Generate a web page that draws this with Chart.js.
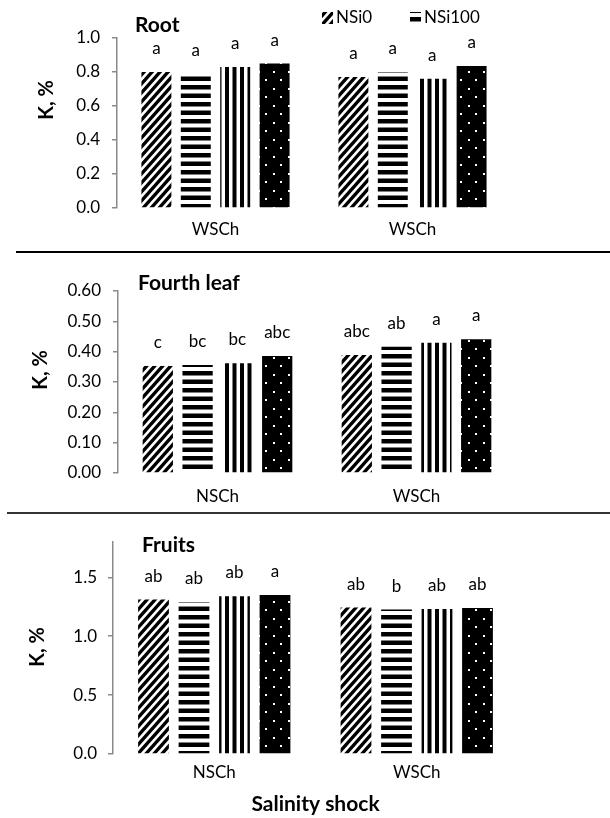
<!DOCTYPE html>
<html>
<head>
<meta charset="utf-8">
<script src="https://cdn.jsdelivr.net/npm/chart.js@4.4.1/dist/chart.umd.min.js"></script>
<style>
  html, body { margin: 0; padding: 0; background: #fff; }
  #wrap { position: relative; width: 610px; height: 818px; overflow: hidden; }
  canvas { position: absolute; left: 0; }
  .rule { position: absolute; right: 0; height: 2px; background: #000; }
</style>
</head>
<body>
<div id="wrap">
  <canvas id="root" width="610" height="252" style="top:0"></canvas>
  <div class="rule" style="top:251px;left:16px"></div>
  <canvas id="leaf" width="610" height="261" style="top:252px"></canvas>
  <div class="rule" style="top:512px;left:7px;background:#333"></div>
  <canvas id="fruit" width="610" height="305" style="top:513px"></canvas>
</div>
<script>
// treatments (only the first two show in the cut legend)
var treatments = ['NSi0', 'NSi100', 'Si0', 'Si100'];

// Root
var root_cats = ['WSCh', 'WSCh'];
var root_NSi0 = [0.80, 0.77];
var root_NSi100 = [0.79, 0.80];
var root_Si0 = [0.83, 0.76];
var root_Si100 = [0.85, 0.835];
var root_letters = [['a', 'a'], ['a', 'a'], ['a', 'a'], ['a', 'a']];
var root_ticks = [0, 0.2, 0.4, 0.6, 0.8, 1.0];

// Fourth leaf
var leaf_cats = ['NSCh', 'WSCh'];
var leaf_NSi0 = [0.353, 0.389];
var leaf_NSi100 = [0.356, 0.416];
var leaf_Si0 = [0.362, 0.429];
var leaf_Si100 = [0.386, 0.441];
var leaf_letters = [['c', 'abc'], ['bc', 'ab'], ['bc', 'a'], ['abc', 'a']];
var leaf_ticks = [0, 0.1, 0.2, 0.3, 0.4, 0.5, 0.6];

// Fruits
var fruit_cats = ['NSCh', 'WSCh'];
var fruit_NSi0 = [1.311, 1.243];
var fruit_NSi100 = [1.291, 1.226];
var fruit_Si0 = [1.339, 1.232];
var fruit_Si100 = [1.350, 1.240];
var fruit_letters = [['ab', 'ab'], ['ab', 'b'], ['ab', 'ab'], ['a', 'ab']];
var fruit_ticks = [0, 0.5, 1.0, 1.5];

Chart.defaults.font.family = 'Lato, sans-serif';
Chart.defaults.color = '#000';

function tile(w, h, draw) {
    var c = document.createElement('canvas');
    c.width = w; c.height = h;
    var g = c.getContext('2d');
    draw(g, w, h);
    return g.createPattern(c, 'repeat');
}

var pat_diag = tile(8, 9, function (g, w, h) {
    g.fillStyle = '#fff'; g.fillRect(0, 0, w, h);
    g.strokeStyle = '#000'; g.lineWidth = 3.4;
    g.beginPath();
    for (var k = -1; k <= 1; k++) {
        g.moveTo(k * w - 1, h + 1.1);
        g.lineTo(k * w + w + 1, -1.1);
    }
    g.stroke();
});
var pat_hor = tile(4, 17, function (g, w, h) {
    g.fillStyle = '#fff'; g.fillRect(0, 0, w, h);
    g.fillStyle = '#000';
    g.fillRect(0, 0, w, 4.5);
    g.fillRect(0, 8.5, w, 4.5);
});
var pat_ver = tile(15, 4, function (g, w, h) {
    g.fillStyle = '#fff'; g.fillRect(0, 0, w, h);
    g.fillStyle = '#000';
    g.fillRect(0, 0, 4, h);
    g.fillRect(7.5, 0, 4, h);
});
var pat_dots = tile(15, 17, function (g, w, h) {
    g.fillStyle = '#000'; g.fillRect(0, 0, w, h);
    g.fillStyle = '#fff';
    g.fillRect(3, 3, 2, 2);
    g.fillRect(10, 11, 2, 2);
});
var fills = [pat_diag, pat_hor, pat_ver, pat_dots];

// letters, panel titles, y title and the legend
var panelText = {
    id: 'panelText',
    afterDraw: function (chart, args, o) {
        var ctx = chart.ctx;
        ctx.save();
        ctx.fillStyle = '#000';
        ctx.font = '17px Lato';
        ctx.textAlign = 'center';
        ctx.textBaseline = 'alphabetic';
        chart.data.datasets.forEach(function (ds, i) {
            chart.getDatasetMeta(i).data.forEach(function (bar, j) {
                ctx.fillText(ds.letters[j], bar.x, bar.y - 18);
            });
        });

        ctx.font = 'bold 21px Lato';
        ctx.textAlign = 'left';
        ctx.textBaseline = 'middle';
        ctx.fillText(o.title, o.titleX, o.titleY);

        ctx.save();
        ctx.translate(o.yTitleX, o.yTitleY);
        ctx.rotate(-Math.PI / 2);
        ctx.font = 'bold 20px Lato';
        ctx.textAlign = 'center';
        ctx.fillText('K, %', 0, 0);
        ctx.restore();

        if (o.legend) {
            ctx.font = '17px Lato';
            o.legend.forEach(function (it) {
                var ds = chart.data.datasets[it.index];
                ctx.fillStyle = ds.backgroundColor;
                ctx.fillRect(it.x, it.y - 6, 11, 12);
                ctx.fillStyle = '#000';
                ctx.fillText(ds.label, it.x + 14, it.y);
            });
        }
        ctx.restore();
    }
};

function makeChart(id, cats, series, letters, ticks, fmt, box, text) {
    var datasets = [];
    for (var i = 0; i < series.length; i++) {
        datasets.push({
            label: treatments[i],
            data: series[i],
            letters: letters[i],
            backgroundColor: fills[i],
            borderWidth: 0,
            barPercentage: 0.76,
            categoryPercentage: 0.8
        });
    }
    return new Chart(document.getElementById(id), {
        type: 'bar',
        data: { labels: cats, datasets: datasets },
        plugins: [panelText],
        options: {
            responsive: false,
            animation: false,
            devicePixelRatio: 1,
            layout: { padding: { left: 0, top: box.top, right: box.right, bottom: 0 } },
            plugins: {
                legend: { display: false },
                tooltip: { enabled: false },
                panelText: text
            },
            scales: {
                x: {
                    grid: { display: false, drawTicks: false },
                    border: { display: false },
                    ticks: { font: { size: 17 }, padding: box.labelPad, color: '#000' },
                    title: {
                        display: !!box.xTitle,
                        text: box.xTitle || '',
                        font: { size: 21, weight: 'bold' },
                        padding: { top: 0, bottom: 1 },
                        color: '#000'
                    },
                    afterFit: function (s) { s.height = box.xH; }
                },
                y: {
                    min: 0,
                    max: box.max,
                    afterBuildTicks: function (s) {
                        s.ticks = ticks.map(function (v) { return { value: v }; });
                    },
                    ticks: {
                        font: { size: 17 },
                        padding: box.tickPad,
                        color: '#000',
                        callback: function (v) { return Number(v).toFixed(fmt); }
                    },
                    grid: {
                        drawOnChartArea: false,
                        drawTicks: true,
                        tickLength: 5,
                        color: '#8a8a8a',
                        lineWidth: 1.5
                    },
                    border: { display: true, color: '#8a8a8a', width: 1.5 },
                    afterFit: function (s) { s.width = box.yW; }
                }
            }
        }
    });
}

makeChart('root', root_cats,
    [root_NSi0, root_NSi100, root_Si0, root_Si100], root_letters, root_ticks, 1,
    { top: 38, right: 99, yW: 117, xH: 44, labelPad: 11, tickPad: 12, max: 1.0 },
    { title: 'Root', titleX: 135, titleY: 25, yTitleX: 47, yTitleY: 100,
      legend: [{ index: 0, x: 322, y: 18 }, { index: 1, x: 410, y: 18 }] });

makeChart('leaf', leaf_cats,
    [leaf_NSi0, leaf_NSi100, leaf_Si0, leaf_Si100], leaf_letters, leaf_ticks, 2,
    { top: 39, right: 94, yW: 118, xH: 40, labelPad: 13, tickPad: 12, max: 0.6 },
    { title: 'Fourth leaf', titleX: 138, titleY: 31, yTitleX: 41, yTitleY: 118 });

makeChart('fruit', fruit_cats,
    [fruit_NSi0, fruit_NSi100, fruit_Si0, fruit_Si100], fruit_letters, fruit_ticks, 1,
    { top: 29, right: 92, yW: 113, xH: 64, labelPad: 8, tickPad: 11, max: 1.8, xTitle: 'Salinity shock' },
    { title: 'Fruits', titleX: 142, titleY: 32, yTitleX: 38, yTitleY: 134 });
</script>
</body>
</html>
